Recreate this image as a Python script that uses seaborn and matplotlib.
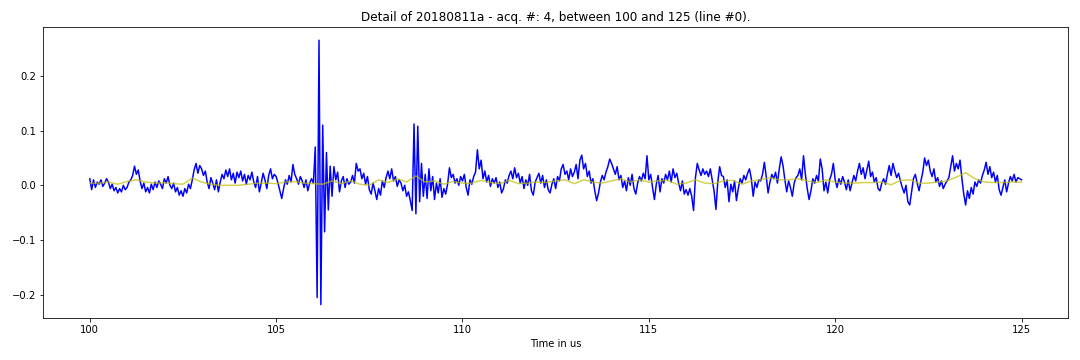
import numpy as np
import pandas as pd
import matplotlib
matplotlib.use("Agg")
import matplotlib.pyplot as plt
import seaborn as sns

title = "Detail of 20180811a - acq. #: 4, between 100 and 125 (line #0)."
xlabel = "Time in us"
t_start, t_end = 100.0, 125.0

# raw signal, one row per microsecond (sampled every 0.05 us)
signal = [
    0.012, -0.008, 0.010, -0.004, 0.006, 0.002, 0.010, -0.002, 0.004, 0.012, 0.006, -0.006, 0.002, -0.010, -0.004, -0.014, -0.006, -0.012, 0.000, -0.008,
    -0.004, 0.006, 0.010, 0.018, 0.035, 0.020, 0.028, 0.008, -0.006, 0.004, -0.012, -0.004, -0.014, 0.002, -0.008, 0.006, -0.004, 0.008, 0.002, -0.006,
    0.012, 0.004, 0.016, 0.000, -0.006, 0.004, -0.012, -0.004, -0.018, -0.010, -0.020, -0.006, -0.014, 0.002, -0.006, 0.010, 0.028, 0.040, 0.022, 0.036,
    0.030, 0.018, 0.026, 0.006, -0.006, 0.014, 0.004, -0.008, 0.010, -0.012, 0.006, 0.020, 0.012, 0.028, 0.016, 0.030, 0.010, 0.022, 0.004, 0.024,
    0.014, 0.026, 0.008, 0.020, 0.002, 0.018, 0.010, 0.024, 0.006, -0.004, 0.016, -0.012, 0.004, 0.022, 0.010, -0.006, 0.018, 0.030, 0.012, 0.020,
    0.016, 0.004, -0.010, -0.024, -0.006, 0.010, 0.002, 0.018, 0.006, 0.038, 0.020, 0.012, 0.002, 0.016, 0.008, -0.004, 0.010, -0.010, 0.004, 0.012,
    0.004, 0.070, -0.205, 0.265, -0.218, 0.110, -0.085, 0.060, -0.045, 0.035, -0.020, 0.034, 0.010, 0.024, -0.012, 0.008, 0.016, -0.004, 0.012, 0.002,
    0.006, 0.018, 0.004, 0.040, 0.026, 0.030, 0.012, 0.022, 0.002, 0.016, -0.008, -0.016, 0.004, -0.010, -0.026, -0.006, -0.018, 0.008, -0.004, 0.014,
    0.026, 0.012, 0.030, 0.008, 0.016, -0.002, 0.010, 0.004, -0.010, 0.000, -0.020, -0.012, -0.028, -0.046, 0.112, -0.052, 0.108, -0.030, 0.040, -0.020,
    0.020, -0.024, 0.030, -0.010, 0.016, -0.026, 0.004, -0.014, 0.012, -0.022, -0.006, -0.016, 0.002, 0.032, 0.014, 0.020, 0.004, 0.012, 0.000, 0.016,
    0.008, 0.020, -0.004, -0.018, 0.010, 0.002, 0.016, 0.024, 0.065, 0.030, 0.046, 0.012, 0.026, 0.006, 0.018, -0.002, 0.012, 0.004, 0.014, -0.004,
    0.006, -0.014, -0.006, 0.010, 0.004, 0.018, 0.026, 0.012, 0.032, 0.014, 0.022, 0.004, 0.016, -0.006, 0.010, 0.000, 0.020, -0.010, -0.018, 0.006,
    0.014, 0.022, 0.004, 0.018, -0.004, 0.010, -0.008, -0.014, 0.002, 0.012, -0.006, 0.016, 0.008, 0.030, 0.038, 0.020, 0.026, 0.010, 0.030, 0.016,
    0.024, 0.038, 0.012, 0.046, 0.055, 0.030, 0.040, 0.016, 0.026, 0.004, 0.012, -0.010, -0.028, -0.014, 0.006, 0.018, 0.010, 0.024, 0.034, 0.048,
    0.040, 0.030, 0.020, 0.034, 0.010, 0.018, -0.004, 0.008, -0.010, 0.014, 0.000, 0.020, -0.006, -0.016, 0.004, 0.016, 0.008, 0.022, 0.012, 0.054,
    0.010, 0.020, -0.004, -0.026, 0.002, 0.018, -0.012, 0.012, 0.004, 0.020, 0.010, 0.026, 0.006, 0.030, 0.014, 0.022, 0.004, -0.010, 0.008, -0.016,
    -0.008, -0.018, -0.006, -0.020, -0.046, 0.014, 0.040, 0.028, 0.018, 0.030, 0.020, 0.026, 0.016, 0.030, 0.010, -0.010, -0.044, 0.006, 0.034, 0.018,
    0.016, -0.004, 0.010, -0.030, 0.002, -0.012, 0.008, -0.028, -0.006, 0.012, 0.004, 0.018, 0.010, 0.022, 0.030, 0.012, -0.020, 0.006, -0.004, 0.010,
    0.008, 0.020, 0.042, 0.016, -0.014, 0.006, 0.020, 0.012, 0.024, 0.004, 0.030, 0.052, 0.036, 0.010, -0.012, 0.008, -0.004, -0.020, 0.004, 0.014,
    0.018, 0.030, 0.010, 0.054, 0.020, -0.006, -0.026, -0.010, 0.012, 0.004, 0.018, 0.008, 0.048, 0.030, -0.010, 0.006, -0.014, 0.010, 0.020, 0.040,
    0.010, -0.004, 0.012, 0.002, 0.016, 0.006, -0.008, 0.010, -0.010, 0.004, 0.018, 0.008, 0.026, 0.040, 0.020, 0.032, 0.012, 0.028, 0.044, 0.016,
    0.024, 0.006, 0.014, -0.006, -0.010, 0.004, 0.012, 0.002, 0.020, 0.036, 0.018, 0.040, 0.026, 0.014, 0.022, 0.008, -0.004, -0.014, 0.000, -0.030,
    -0.036, -0.012, 0.012, 0.020, 0.004, -0.010, 0.008, 0.024, 0.050, 0.036, 0.046, 0.026, 0.016, 0.030, 0.006, 0.014, -0.002, 0.008, -0.006, 0.002,
    0.008, 0.014, 0.034, 0.054, 0.026, 0.040, 0.030, 0.046, 0.012, -0.016, -0.036, -0.010, -0.024, -0.004, -0.016, 0.006, -0.002, 0.010, 0.004, 0.018,
    0.028, 0.042, 0.020, 0.034, 0.014, 0.024, 0.006, 0.018, -0.008, -0.018, -0.004, 0.010, -0.012, 0.004, 0.016, 0.008, 0.020, 0.006, 0.014, 0.012,
    0.010,
]

# smoothed signal, sampled every 0.25 us
smooth = [
    0.004, 0.004, 0.006, 0.002, 0.007, 0.010, 0.006, 0.004, 0.005, 0.003, 0.002, 0.013, 0.006, 0.002, 0.000, 0.000, 0.000, 0.002, 0.004, 0.004,
    0.003, 0.006, 0.007, 0.004, 0.003, 0.002, 0.008, 0.003, 0.008, 0.002, 0.000, 0.010, 0.005, 0.012, 0.006, 0.017, 0.006, 0.008, 0.002, 0.007,
    0.004, 0.004, 0.009, 0.005, 0.003, 0.009, 0.003, 0.004, 0.006, 0.005, 0.008, 0.010, 0.003, 0.010, 0.006, 0.004, 0.008, 0.012, 0.006, 0.010,
    0.006, 0.008, 0.009, 0.002, 0.004, 0.010, 0.004, 0.003, 0.008, 0.009, 0.002, 0.008, 0.010, 0.014, 0.010, 0.010, 0.012, 0.008, 0.005, 0.010,
    0.006, 0.004, 0.004, 0.005, 0.005, 0.006, 0.001, 0.009, 0.010, 0.004, 0.004, 0.006, 0.008, 0.015, 0.023, 0.012, 0.006, 0.005, 0.005, 0.006,
    0.006,
]

raw_df = pd.DataFrame({"t": np.linspace(t_start, t_end, len(signal)), "v": signal})
smooth_df = pd.DataFrame({"t": np.linspace(t_start, t_end, len(smooth)), "v": smooth})

fig, ax = plt.subplots(figsize=(15, 5), dpi=72)
fig.patch.set_facecolor("white")
sns.lineplot(data=raw_df, x="t", y="v", color="b", linewidth=1.5, ax=ax)
sns.lineplot(data=smooth_df, x="t", y="v", color="y", linewidth=1.5, alpha=0.7, ax=ax)

ax.set_title(title, fontsize=12)
ax.set_xlabel(xlabel, fontsize=10)
ax.set_ylabel("")
ax.set_xticks([100, 105, 110, 115, 120, 125])
ax.set_yticks([-0.2, -0.1, 0.0, 0.1, 0.2])
ax.tick_params(labelsize=10)
for s in ax.spines.values():
    s.set_color("black")
    s.set_linewidth(0.8)

fig.subplots_adjust(left=0.040, right=0.989, top=0.925, bottom=0.117)
fig.savefig("out.png", dpi=72, facecolor="white")
